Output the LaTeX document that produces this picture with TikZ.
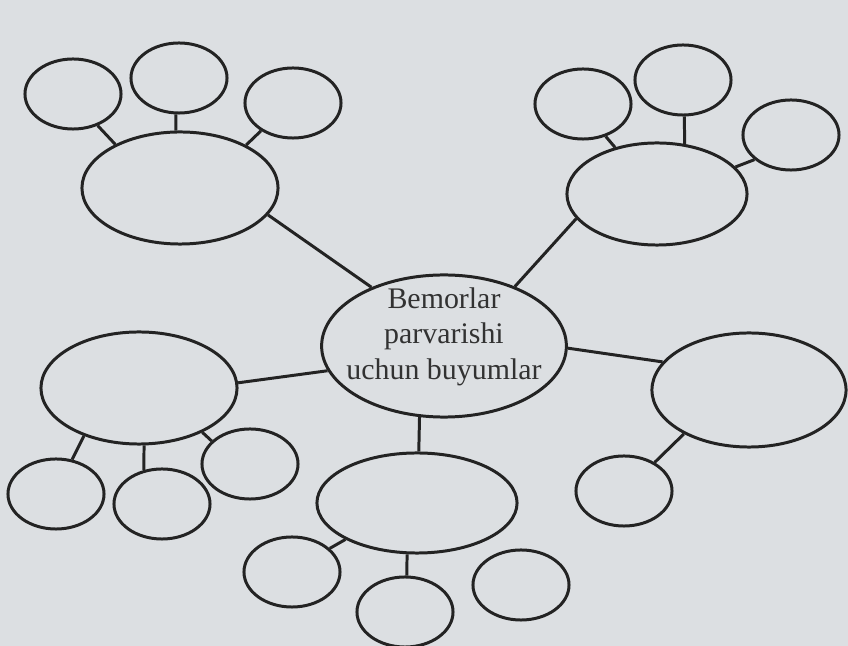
\documentclass[tikz,border=0pt]{standalone}
\usepackage{fontspec}
\setmainfont{Liberation Serif}
\usepackage{tikz}
\usetikzlibrary{shapes.geometric}
\definecolor{pagegray}{RGB}{220, 223, 226}
\definecolor{inkdark}{RGB}{35, 35, 35}
\definecolor{textdark}{RGB}{50, 50, 50}

\begin{document}
\begin{tikzpicture}[
    x=0.01cm, y=-0.01cm,
    hubnode/.style={
        ellipse,
        draw=inkdark,
        line width=0.85pt,
        inner xsep=-0.11cm,
        inner ysep=-0.08cm,
        minimum width=2.44cm,
        minimum height=1.42cm,
        align=center,
        font=\fontsize{8.5}{10}\selectfont\color{textdark}
    },
    bigoval/.style={
        ellipse,
        draw=inkdark,
        line width=0.85pt,
        inner sep=0pt
    },
    smalloval/.style={
        ellipse,
        draw=inkdark,
        line width=0.85pt,
        inner sep=0pt,
        minimum width=0.96cm,
        minimum height=0.70cm
    },
    link/.style={draw=inkdark, line width=0.85pt}
]
    % Page
    \useasboundingbox (0,0) rectangle (848,646);
    \fill[pagegray] (0,0) rectangle (848,646);

    % Centre
    \node[hubnode] (hub) at (444,346) {Bemorlar\\parvarishi\\uchun buyumlar\rule[-0.25cm]{0pt}{0pt}};

    % Upper left group
    \node[bigoval, minimum width=1.96cm, minimum height=1.12cm] (ul) at (180,188) {};
    \node[smalloval] (ul1) at (73,94) {};
    \node[smalloval] (ul2) at (179,78) {};
    \node[smalloval] (ul3) at (293,103) {};

    % Upper right group
    \node[bigoval, minimum width=1.80cm, minimum height=1.02cm] (ur) at (657,194) {};
    \node[smalloval] (ur1) at (583,104) {};
    \node[smalloval] (ur2) at (683,80) {};
    \node[smalloval] (ur3) at (791,135) {};

    % Left group
    \node[bigoval, minimum width=1.96cm, minimum height=1.12cm] (lf) at (139,388) {};
    \node[smalloval] (lf1) at (56,494) {};
    \node[smalloval] (lf2) at (162,504) {};
    \node[smalloval] (lf3) at (250,464) {};

    % Right group
    \node[bigoval, minimum width=1.94cm, minimum height=1.14cm] (rt) at (749,390) {};
    \node[smalloval] (rt1) at (624,491) {};

    % Bottom group
    \node[bigoval, minimum width=2.00cm, minimum height=1.00cm] (bt) at (417,503) {};
    \node[smalloval] (bt1) at (292,572) {};
    \node[smalloval] (bt2) at (405,612) {};
    \node[smalloval] (bt3) at (521,585) {};

    % Links from the centre
    \draw[link] (hub.141) -- (ul.-17);
    \draw[link] (hub.40) -- (ur.197);
    \draw[link] (hub.192) -- (lf.3);
    \draw[link] (hub.-1) -- (rt.162);
    \draw[link] (hub.-109) -- (bt.88);

    % Links to the small ovals
    \draw[link] (ul.146) -- (ul1.-52);
    \draw[link] (ul.94) -- (ul2.-95);
    \draw[link] (ul.33) -- (ul3.221);
    \draw[link] (ur.132) -- (ur1.-55);
    \draw[link] (ur.61) -- (ur2.-88);
    \draw[link] (ur.19) -- (ur3.214);
    \draw[link] (lf.221) -- (lf1.65);
    \draw[link] (lf.-85) -- (lf2.118);
    \draw[link] (lf.-35) -- (lf3.149);
    \draw[link] (rt.214) -- (rt1.43);
    \draw[link] (bt.207) -- (bt1.32);
    \draw[link] (bt.-101) -- (bt2.87);
\end{tikzpicture}
\end{document}
